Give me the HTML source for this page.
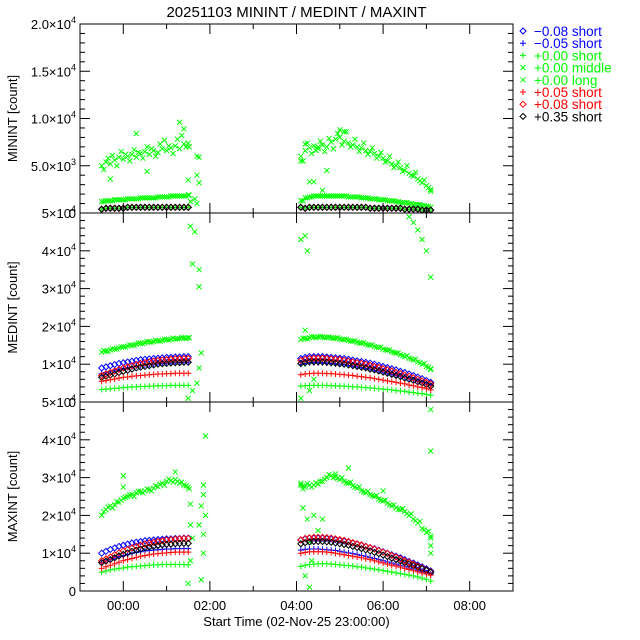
<!DOCTYPE html>
<html><head><meta charset="utf-8"><style>
html,body{margin:0;padding:0;background:#fff;}
svg{display:block;font-family:"Liberation Sans",sans-serif;}
</style></head><body>
<svg id="c" width="640" height="640" viewBox="0 0 640 640"></svg>
<script>
const TA=[-0.5,-0.4,-0.3,-0.2,-0.1,0,0.1,0.2,0.3,0.4,0.5,0.6,0.7,0.8,0.9,1.0,1.1,1.2,1.3,1.4,1.5];
const TB=[4.1,4.2,4.3,4.4,4.5,4.6,4.7,4.8,4.9,5.0,5.1,5.2,5.3,5.4,5.5,5.6,5.7,5.8,5.9,6.0,6.1,6.2,6.3,6.4,6.5,6.6,6.7,6.8,6.9,7.0,7.1];
const TAH=[-0.45,-0.35,-0.25,-0.15,-0.05,0.05,0.15,0.25,0.35,0.45,0.55,0.65,0.75,0.85,0.95,1.05,1.15,1.25,1.35,1.45,1.52];
const TBH=[4.15,4.25,4.35,4.45,4.55,4.65,4.75,4.85,4.95,5.05,5.15,5.25,5.35,5.45,5.55,5.65,5.75,5.85,5.95,6.05,6.15,6.25,6.35,6.45,6.55,6.65,6.75,6.85,6.95,7.05,7.1];
const xTickLabels=["00:00","02:00","04:00","06:00","08:00"];
const xTickHours=[0,2,4,6,8];
const legendLabels=["\u22120.08 short","\u22120.05 short","+0.00 short","+0.00 middle","+0.00 long","+0.05 short","+0.08 short","+0.35 short"];
// panel 1 MININT (thousands)
const p1_low=[0.4,0.5,0.5,0.5,0.5,0.5,0.6,0.6,0.6,0.6,0.6,0.6,0.6,0.6,0.6,0.6,0.6,0.6,0.6,0.6,0.6, 0.6,0.5,0.6,0.6,0.6,0.6,0.6,0.6,0.6,0.6,0.6,0.6,0.6,0.6,0.6,0.6,0.5,0.5,0.5,0.5,0.5,0.5,0.5,0.5,0.4,0.4,0.4,0.4,0.3,0.3,0.3];
const p1_gxl=[1.2,1.3,1.3,1.4,1.4,1.4,1.5,1.5,1.5,1.6,1.6,1.6,1.6,1.7,1.7,1.7,1.8,1.8,1.8,1.8,1.9, 1.3,1.6,1.7,1.8,1.8,1.8,1.8,1.8,1.8,1.8,1.8,1.7,1.7,1.7,1.6,1.6,1.5,1.5,1.4,1.4,1.3,1.3,1.2,1.1,1.1,1.0,0.9,0.9,0.8,0.7,0.6];
const p1_gxm=[5.0,5.4,5.2,5.6,5.9,5.7,6.0,6.2,5.9,6.3,6.5,6.2,6.6,6.4,6.8,6.6,6.9,7.1,6.8,7.3,7.4, 6.0,6.6,6.9,7.1,6.8,7.2,7.0,7.5,7.8,8.0,7.6,7.4,7.2,7.0,6.9,6.6,6.5,6.3,6.0,5.8,5.5,5.2,5.0,4.8,4.5,4.2,3.9,3.6,3.2,2.9,2.5];
const p1_gxm2=[4.6,5.8,6.1,5.0,6.5,6.2,5.5,6.7,6.4,5.8,7.0,6.8,6.0,7.3,7.7,7.1,6.3,7.8,8.2,7.0,7.0, 5.5,7.4,6.3,6.6,7.6,6.5,7.9,6.8,8.4,7.2,8.6,7.0,7.8,6.5,7.4,6.2,6.9,5.8,6.4,5.4,6.0,4.8,5.4,4.4,5.0,4.0,4.3,3.4,3.5,2.7,2.3];
const p1_exT=[1.5,1.55,1.7,1.75,1.7,1.75,1.7,1.65,4.1,4.2,4.3,4.4,4.5,4.6,4.7,1.3,1.4,0.3,0.55,-0.3,5.0,5.1];
const p1_exV=[3.5,1.2,6.0,5.9,4.0,3.2,1.0,1.5,5.5,7.3,3.3,3.3,7.0,2.4,4.5,9.6,8.9,8.4,4.4,3.6,8.8,8.6];
// panel 2 MEDINT
const p2_bd=[9.0,9.3,9.6,9.9,10.2,10.4,10.6,10.8,11.0,11.2,11.3,11.4,11.5,11.6,11.7,11.8,11.8,11.9,11.9,12.0,12.0, 11.5,11.8,12.0,12.0,12.0,12.0,11.9,11.8,11.7,11.6,11.5,11.3,11.1,10.9,10.7,10.5,10.3,10.0,9.7,9.4,9.1,8.8,8.5,8.1,7.8,7.4,7.0,6.6,6.2,5.7,5.2];
const p2_bp=[7.5,7.8,8.1,8.4,8.7,8.9,9.1,9.3,9.5,9.6,9.8,9.9,10.0,10.1,10.2,10.3,10.3,10.4,10.4,10.5,10.5, 10.0,10.2,10.4,10.4,10.4,10.4,10.3,10.2,10.1,10.0,9.9,9.7,9.5,9.3,9.1,8.9,8.7,8.4,8.2,7.9,7.6,7.3,7.0,6.7,6.4,6.1,5.8,5.4,5.1,4.7,4.3];
const p2_rp=[5.5,5.7,5.9,6.1,6.3,6.5,6.6,6.8,6.9,7.0,7.1,7.2,7.3,7.4,7.4,7.5,7.5,7.6,7.6,7.6,7.6, 7.2,7.4,7.5,7.6,7.6,7.6,7.5,7.5,7.4,7.3,7.2,7.1,7.0,6.8,6.7,6.5,6.4,6.2,6.0,5.8,5.6,5.4,5.2,5.0,4.8,4.5,4.3,4.0,3.8,3.5,3.2];
const p2_rd=[7.0,7.4,7.8,8.2,8.6,9.0,9.3,9.6,9.9,10.2,10.4,10.6,10.8,11.0,11.1,11.2,11.3,11.4,11.4,11.5,11.5, 11.0,11.3,11.5,11.6,11.6,11.6,11.5,11.4,11.3,11.2,11.0,10.8,10.6,10.4,10.2,10.0,9.7,9.4,9.1,8.8,8.5,8.2,7.8,7.5,7.1,6.8,6.4,6.0,5.6,5.2,4.8];
const p2_kd=[6.5,6.8,7.1,7.4,7.8,8.1,8.4,8.7,9.0,9.2,9.4,9.6,9.8,10.0,10.1,10.2,10.3,10.4,10.4,10.5,10.5, 10.2,10.4,10.6,10.6,10.6,10.6,10.5,10.4,10.3,10.1,10.0,9.8,9.6,9.4,9.2,9.0,8.7,8.5,8.2,7.9,7.6,7.3,7.0,6.7,6.3,6.0,5.7,5.3,5.0,4.6,4.2];
const p2_gp=[3.3,3.4,3.5,3.6,3.7,3.8,3.9,4.0,4.0,4.1,4.1,4.2,4.2,4.3,4.3,4.3,4.4,4.4,4.4,4.4,4.4, 4.2,4.3,4.4,4.4,4.4,4.4,4.4,4.3,4.3,4.2,4.2,4.1,4.0,4.0,3.9,3.8,3.7,3.6,3.5,3.4,3.3,3.2,3.0,2.9,2.8,2.6,2.5,2.3,2.2,2.0,1.8];
const p2_gxm=[13.2,13.5,13.8,14.0,14.3,14.6,14.8,15.0,15.3,15.5,15.7,15.9,16.0,16.2,16.3,16.5,16.6,16.7,16.8,16.9,17.0, 16.5,16.8,17.0,17.2,17.2,17.2,17.1,17.0,16.9,16.7,16.5,16.3,16.1,15.8,15.6,15.3,15.0,14.7,14.4,14.0,13.7,13.3,12.9,12.5,12.0,11.6,11.1,10.6,10.0,9.4,8.8];
const p2_gxm2=[13.6,13.4,14.1,14.0,14.6,14.5,15.1,15.0,15.6,15.4,16.0,15.8,16.3,16.1,16.6,16.4,16.9,16.7,17.1,16.8,17.0, 16.9,16.7,17.3,17.0,17.4,17.0,17.2,16.8,17.0,16.5,16.6,16.1,16.2,15.6,15.7,15.1,15.1,14.5,14.5,13.8,13.8,13.1,13.0,12.3,12.2,11.4,11.3,10.4,10.2,9.2,8.6];
const p2_exT=[1.55,1.6,1.65,1.75,1.75,1.8,1.75,1.6,1.7,1.5,4.1,4.2,4.25,4.2,4.15,4.3,4.4,4.1,6.6,6.7,6.8,6.9,7.0,7.1];
const p2_exV=[46.5,36.5,45,35,30.5,13,9,3,5,1,43,44,40,19,10,3,6,1,49,47.5,45.5,43,40,33];
// panel 3 MAXINT
const p3_bd=[10.0,10.5,11.0,11.4,11.8,12.1,12.4,12.7,12.9,13.1,13.3,13.4,13.5,13.6,13.7,13.8,13.8,13.9,13.9,14.0,14.0, 13.5,13.8,14.0,14.0,14.0,14.0,13.9,13.8,13.6,13.4,13.2,13.0,12.7,12.4,12.1,11.8,11.5,11.2,10.8,10.4,10.0,9.6,9.2,8.8,8.3,7.8,7.4,6.9,6.4,5.9,5.3];
const p3_bp=[7.5,7.9,8.3,8.7,9.1,9.4,9.7,10.0,10.2,10.4,10.6,10.7,10.8,10.9,11.0,11.1,11.1,11.2,11.2,11.2,11.2, 10.8,11.0,11.1,11.1,11.1,11.0,10.9,10.8,10.7,10.5,10.3,10.1,9.9,9.7,9.4,9.2,8.9,8.6,8.3,8.0,7.7,7.4,7.1,6.8,6.4,6.1,5.8,5.4,5.1,4.8,4.5];
const p3_rd=[8.0,8.5,9.0,9.6,10.1,10.6,11.0,11.4,11.8,12.1,12.4,12.7,12.9,13.1,13.3,13.5,13.6,13.7,13.8,13.9,13.9, 13.5,13.9,14.1,14.2,14.2,14.2,14.1,14.0,13.8,13.6,13.4,13.1,12.8,12.5,12.2,11.8,11.5,11.1,10.7,10.3,9.9,9.4,9.0,8.5,8.0,7.6,7.1,6.6,6.1,5.6,5.1];
const p3_kd=[7.5,7.9,8.3,8.8,9.3,9.7,10.1,10.5,10.8,11.1,11.4,11.6,11.8,12.0,12.2,12.3,12.4,12.5,12.6,12.6,12.6, 12.5,12.8,13.0,13.1,13.1,13.1,13.0,12.9,12.7,12.5,12.3,12.1,11.8,11.5,11.2,10.9,10.6,10.2,9.9,9.5,9.1,8.7,8.3,7.9,7.5,7.1,6.7,6.3,5.9,5.5,5.0];
const p3_rp=[6.0,6.4,6.8,7.2,7.6,8.0,8.3,8.6,8.9,9.2,9.4,9.6,9.8,9.9,10.0,10.1,10.2,10.3,10.3,10.3,10.3, 10.0,10.2,10.4,10.4,10.4,10.4,10.3,10.2,10.0,9.8,9.6,9.4,9.2,9.0,8.8,8.5,8.3,8.0,7.7,7.4,7.1,6.8,6.6,6.3,6.0,5.7,5.4,5.1,4.8,4.5,4.2];
const p3_gp=[5.0,5.3,5.6,5.8,6.0,6.1,6.3,6.4,6.5,6.6,6.7,6.8,6.9,6.9,7.0,7.0,7.0,7.0,7.0,7.0,6.9, 6.5,6.8,7.0,7.1,7.2,7.2,7.2,7.1,7.0,6.9,6.8,6.7,6.6,6.4,6.3,6.1,6.0,5.8,5.6,5.4,5.2,5.0,4.8,4.6,4.4,4.2,4.0,3.7,3.4,3.1,2.6];
const p3_gxm=[20.0,21.5,22.5,22.8,23.5,24.5,25.0,25.5,26.0,26.3,26.5,26.8,27.2,27.6,28.5,29.0,29.2,29.5,28.5,28.0,27.5, 28.5,27.5,28.0,28.0,28.3,29.0,30.0,30.5,30.2,29.5,29.0,28.5,27.8,27.2,26.5,26.0,25.5,25.0,24.3,23.8,23.2,22.5,22.0,21.5,21.0,20.0,19.0,18.0,16.5,15.5,14.5];
const p3_gxm2=[21.0,22.2,22.0,23.6,24.0,24.8,25.4,25.0,26.4,26.0,27.0,26.5,27.8,28.2,28.0,29.6,28.8,29.0,28.8,27.8,27.0, 27.8,28.4,27.5,28.6,29.0,29.6,30.8,30.0,29.8,30.0,28.6,28.8,27.5,27.6,26.2,26.4,25.2,25.3,24.0,24.0,22.8,22.8,21.6,21.8,20.5,20.4,18.6,18.4,16.2,15.8,14.0];
const p3_exT=[1.55,1.55,1.6,1.55,1.5,1.75,1.8,1.85,1.85,1.9,1.9,1.85,1.85,1.8,4.1,4.15,4.15,4.25,4.3,4.4,4.5,4.6,4.35,4.2,4.3,7.1,7.1,7.1,7.1,0.0,0.0,1.2,5.2,4.9,6.0];
const p3_exV=[23,17.5,14,8,2,17.5,22.5,28,25.5,41,20,15,10,3,28,27,22,19,13,20,16,19,8,4,1,48,37,12,10,30.5,27.5,31.5,32.5,31,26.5];

const NS="http://www.w3.org/2000/svg";
const svg=document.getElementById('c');
const X0=80,X1=513,H0=-1,H1=9;
function xs(h){return X0+(h-H0)/(H1-H0)*(X1-X0);}
function el(tag,attrs,parent){const e=document.createElementNS(NS,tag);for(const k in attrs)e.setAttribute(k,attrs[k]);(parent||svg).appendChild(e);return e;}
const T=TA.concat(TB);
const TH=TAH.concat(TBH);
const panels=[
 {top:24,bot:213,max:20,name:"MININT",labels:["0","5.0\u00d710","1.0\u00d710","1.5\u00d710","2.0\u00d710"],exps:["","3","4","4","4"],major:5,minor:1},
 {top:213,bot:402,max:50,name:"MEDINT",labels:["0","1\u00d710","2\u00d710","3\u00d710","4\u00d710","5\u00d710"],exps:["","4","4","4","4","4"],major:10,minor:2},
 {top:402,bot:591,max:50,name:"MAXINT",labels:["0","1\u00d710","2\u00d710","3\u00d710","4\u00d710","5\u00d710"],exps:["","4","4","4","4","4"],major:10,minor:2}
];
const G="#00ff00",B="#0000ff",R="#ff0000",K="#000000";
function marker(g,type,x,y,col){
 let d;
 if(type==='d')d=`M${x},${y-3}L${x+3},${y}L${x},${y+3}L${x-3},${y}Z`;
 else if(type==='p')d=`M${x-3},${y}H${x+3}M${x},${y-3}V${y+3}`;
 else d=`M${x-2.5},${y-2.5}L${x+2.5},${y+2.5}M${x-2.5},${y+2.5}L${x+2.5},${y-2.5}`;
 return el('path',{d:d,stroke:col,fill:'none','stroke-width':1},g);
}
function seriesAt(pi,g,ts,vals,type,col,name){
 const p=panels[pi];const sg=el('g',{},g);
 
 
 vals.forEach((v,i)=>{if(v==null)return;const y=p.bot-v/p.max*(p.bot-p.top);marker(sg,type,xs(ts[i]),y,col);});
}
function series(pi,g,vals,type,col,name){seriesAt(pi,g,T,vals,type,col,name);}
const defs=el('defs',{});
panels.forEach((p,pi)=>{
 const cp=el('clipPath',{id:'cp'+pi},defs);el('rect',{x:X0,y:p.top,width:X1-X0,height:p.bot-p.top},cp);
 const g=el('g',{'clip-path':`url(#cp${pi})`});
 
 
 if(pi===0){
  series(0,g,p1_gxm,'x',G,'green-x-middle');
  seriesAt(0,g,TH,p1_gxm2,'x',G,'green-x-middle-scatter');
  seriesAt(0,g,p1_exT,p1_exV,'x',G,'green-x-outliers');
  series(0,g,p1_gxl,'x',G,'green-x-long');
  seriesAt(0,g,TH,p1_gxl,'x',G,'green-x-long-2');
  series(0,g,p1_low,'p',G,'green-plus-short');
  series(0,g,p1_low,'d',B,'blue-diamond');
  series(0,g,p1_low,'d',R,'red-diamond');
  series(0,g,p1_low,'d',K,'black-diamond');
 } else if(pi===1){
  series(1,g,p2_gxm,'x',G,'green-x-middle');
  seriesAt(1,g,TH,p2_gxm2,'x',G,'green-x-middle-scatter');
  seriesAt(1,g,p2_exT,p2_exV,'x',G,'green-x-outliers');
  series(1,g,p2_gp,'p',G,'green-plus-short');
  series(1,g,p2_bd,'d',B,'blue-diamond');
  series(1,g,p2_bp,'p',B,'blue-plus');
  series(1,g,p2_rd,'d',R,'red-diamond');
  series(1,g,p2_kd,'d',K,'black-diamond');
  series(1,g,p2_rp,'p',R,'red-plus');
 } else {
  series(2,g,p3_gxm,'x',G,'green-x-middle');
  seriesAt(2,g,TH,p3_gxm2,'x',G,'green-x-middle-scatter');
  seriesAt(2,g,p3_exT,p3_exV,'x',G,'green-x-outliers');
  series(2,g,p3_gp,'p',G,'green-plus-short');
  series(2,g,p3_bd,'d',B,'blue-diamond');
  series(2,g,p3_bp,'p',B,'blue-plus');
  series(2,g,p3_rd,'d',R,'red-diamond');
  series(2,g,p3_kd,'d',K,'black-diamond');
  series(2,g,p3_rp,'p',R,'red-plus');
 }
 const fr=el('rect',{x:X0,y:p.top,width:X1-X0,height:p.bot-p.top,fill:'none',stroke:'#000','stroke-width':1});
 
 
 for(let v=0;v<=p.max+1e-9;v+=p.minor){
  const y=p.bot-v/p.max*(p.bot-p.top);
  const isMaj=Math.abs(v/p.major-Math.round(v/p.major))<1e-6;
  const L=isMaj?10:5;
  el('line',{x1:X0,x2:X0+L,y1:y,y2:y,stroke:'#000'});
  el('line',{x1:X1,x2:X1-L,y1:y,y2:y,stroke:'#000'});
 }
 p.labels.forEach((lb,i)=>{
  const y=p.bot-i*p.major/p.max*(p.bot-p.top);
  const t=el('text',{x:X0-4,y:y+5,'text-anchor':'end','font-size':13,fill:'#000'});
  
  
  t.textContent=lb;
  if(p.exps[i]){const s=el('tspan',{dy:-6,'font-size':9},t);s.textContent=p.exps[i];}
 });
 for(let h=-1;h<=9;h++){
  const x=xs(h);const L=(h%2===0)?10:5;
  el('line',{x1:x,x2:x,y1:p.bot,y2:p.bot-L,stroke:'#000'});
  el('line',{x1:x,x2:x,y1:p.top,y2:p.top+L,stroke:'#000'});
 }
 const yl=el('text',{x:0,y:0,transform:`translate(17,${(p.top+p.bot)/2}) rotate(-90)`,'text-anchor':'middle','font-size':13,fill:'#000'});
 
 
 yl.textContent=p.name+' [count]';
});
xTickLabels.forEach((lb,i)=>{
 const t=el('text',{x:xs(xTickHours[i]),y:610,'text-anchor':'middle','font-size':13,fill:'#000'});
 
 
 t.textContent=lb;
});
const xt=el('text',{x:(X0+X1)/2,y:626,'text-anchor':'middle','font-size':13,fill:'#000'});


xt.textContent='Start Time (02-Nov-25 23:00:00)';
const tt=el('text',{x:(X0+X1)/2,y:17,'text-anchor':'middle','font-size':15,fill:'#000'});


tt.textContent='20251103 MININT / MEDINT / MAXINT';
const legCols=[B,B,G,G,G,R,R,K];
const legTypes=['d','p','p','x','x','p','d','d'];
const lg=el('g',{});


legendLabels.forEach((lb,i)=>{
 const y=35+i*12.2;
 const eg=el('g',{},lg);
 
 
 marker(eg,legTypes[i],523,y-4,legCols[i]);
 const t=el('text',{x:534,y:y+1,'font-size':13.5,fill:legCols[i]},eg);
 t.textContent=lb;
});
</script>
</body></html>
